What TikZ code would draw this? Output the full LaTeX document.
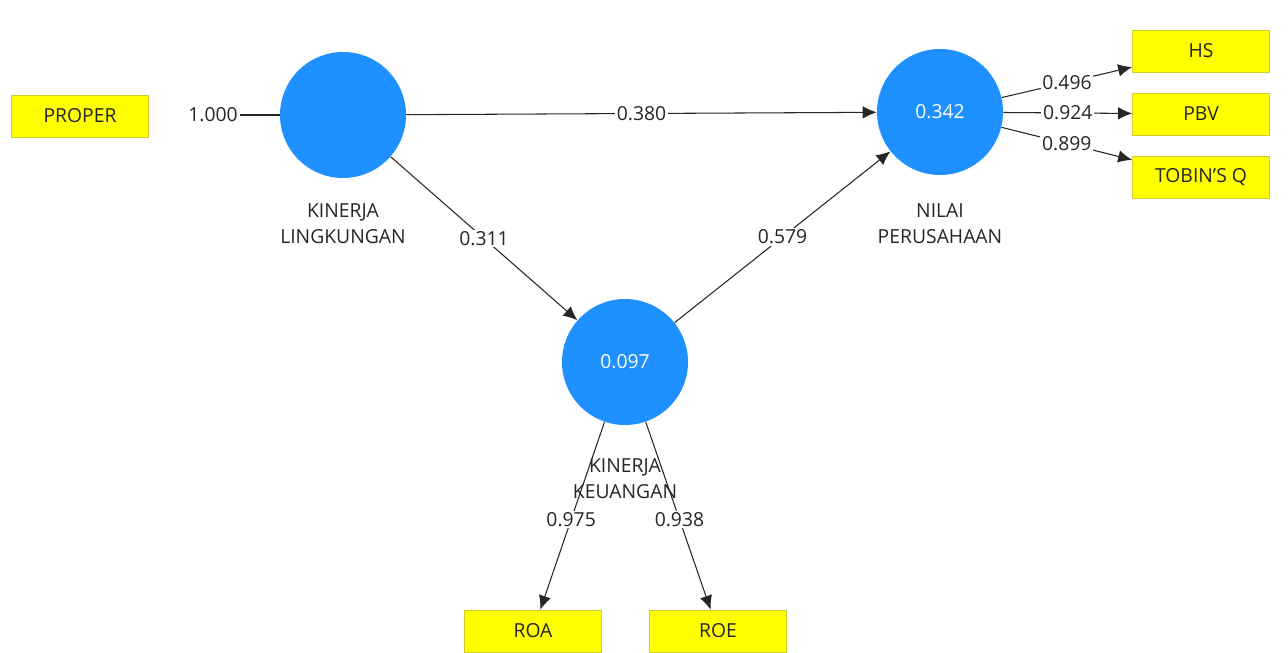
\documentclass[tikz,border=0pt]{standalone}
\usepackage{fontspec}
\setmainfont{Open Sans}
\usetikzlibrary{arrows.meta,positioning}
\usepackage{xcolor}
\definecolor{plsblue}{RGB}{30,144,255}
\definecolor{plsyellow}{RGB}{255,255,0}

\begin{document}
\begin{tikzpicture}[>={Latex[length=2.8mm,width=2.5mm]},
    construct/.style={circle, fill=plsblue, minimum size=2.52cm, inner sep=0pt, text=white, font=\fontsize{11}{14}\selectfont},
    indicator/.style={rectangle, draw=plsyellow!60!gray, fill=plsyellow, minimum width=2.74cm, minimum height=0.84cm, text=black!85, font=\fontsize{11}{14}\selectfont},
    caption/.style={align=center, text=black!85, font=\fontsize{11}{14.7}\selectfont},
    coef/.style={fill=white, inner sep=1pt, text=black!85, font=\fontsize{11}{14}\selectfont},
    link/.style={black!85, line width=0.6pt}]
    \useasboundingbox (0,0) rectangle (25.76,-13.06);

    \node[construct] (kl) at (6.86,-2.3) {};
    \node[construct] (np) at (18.8,-2.24) {0.342};
    \node[construct] (kk) at (12.5,-7.24) {0.097};

    \node[caption] (kl-name) at (6.86,-4.48) {KINERJA\\LINGKUNGAN};
    \node[caption] (np-name) at (18.8,-4.48) {NILAI\\PERUSAHAAN};
    \node[caption] (kk-name) at (12.5,-9.58) {KINERJA\\KEUANGAN};

    \node[indicator] (proper) at (1.6,-2.32) {PROPER};
    \node[indicator] (hs) at (24.02,-1.02) {HS};
    \node[indicator] (pbv) at (24.02,-2.28) {PBV};
    \node[indicator] (tobin) at (24.02,-3.54) {TOBIN\char"0027 S Q};
    \node[indicator] (roa) at (10.66,-12.62) {ROA};
    \node[indicator] (roe) at (14.36,-12.62) {ROE};

    \node[coef] (l-proper) at (4.26,-2.3) {1.000};
    \draw[link] (l-proper) -- (kl);

    \draw[link, ->] (kl) -- node[coef] {0.380} (np);
    \draw[link, ->] (kl) -- node[coef] {0.311} (kk);
    \draw[link, ->] (kk) -- node[coef] {0.579} (np);

    \draw[link, ->] (np) -- node[coef] {0.496} (hs);
    \draw[link, ->] (np) -- node[coef] {0.924} (pbv);
    \draw[link, ->] (np) -- node[coef] {0.899} (tobin);

    \draw[link, ->] (kk) -- node[coef, pos=0.52] {0.975} (roa);
    \draw[link, ->] (kk) -- node[coef, pos=0.52] {0.938} (roe);
\end{tikzpicture}
\end{document}
